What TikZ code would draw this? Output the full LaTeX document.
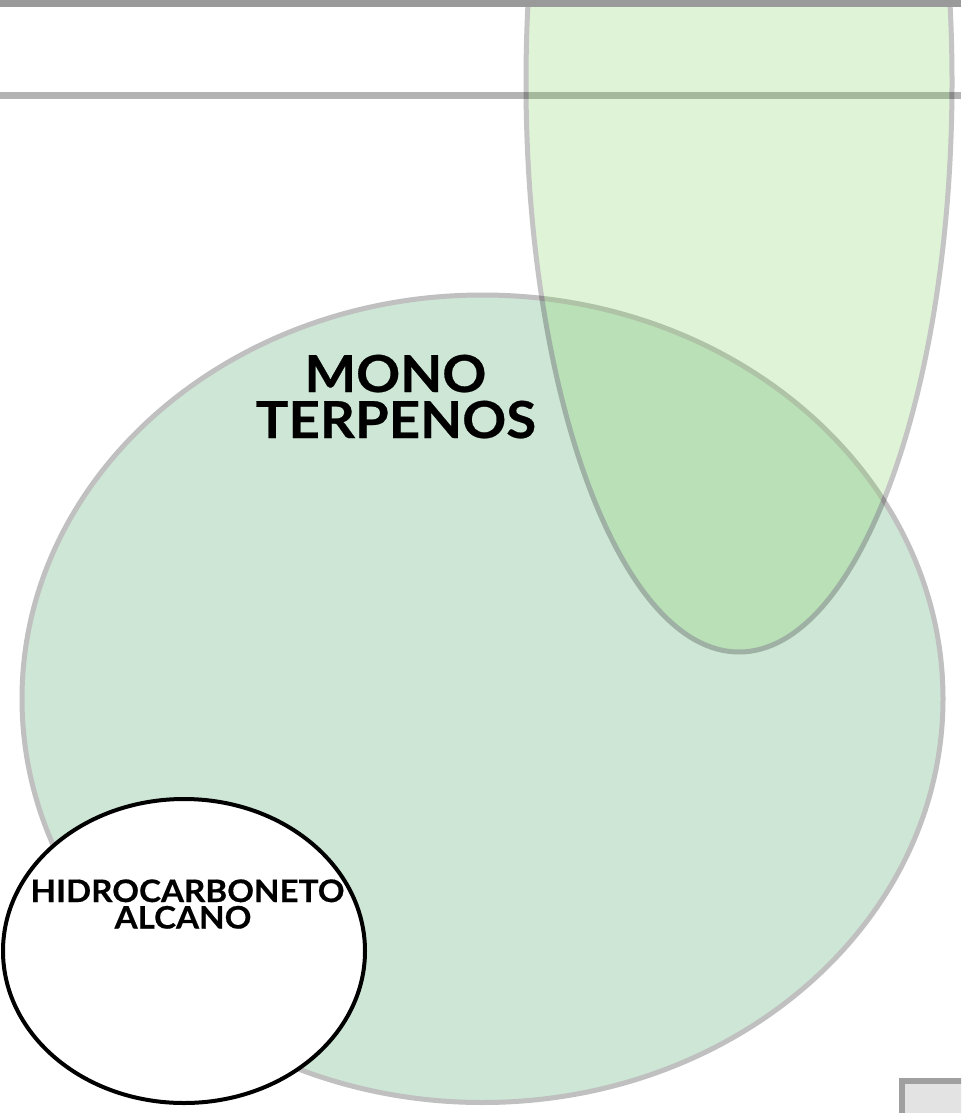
\documentclass[tikz,border=0pt]{standalone}
\usepackage{fontspec}
\setmainfont{Lato}[BoldFeatures={FakeStretch=1.07,FakeBold=0.5}]
\usetikzlibrary{shapes.geometric}
\definecolor{bigfill}{RGB}{205,230,213}
\definecolor{bigline}{RGB}{192,192,192}
\definecolor{tallfill}{RGB}{122,209,84}
\definecolor{tallline}{RGB}{10,10,10}
\definecolor{topbar}{RGB}{154,154,154}
\definecolor{midbar}{RGB}{179,179,179}
\definecolor{boxline}{RGB}{160,160,160}
\definecolor{boxfill}{RGB}{227,227,227}
\begin{document}
\begin{tikzpicture}[x=1pt,y=-1pt,
  blob/.style={ellipse, inner sep=0pt, outer sep=0pt},
  lbl/.style={inner sep=0pt, anchor=base, text=black, text depth=0pt},
  bigtxt/.style={lbl, text height=37pt, font=\fontsize{51}{51}\selectfont\bfseries},
  smalltxt/.style={lbl, text height=22pt, font=\fontsize{31}{31}\selectfont\bfseries}]
\useasboundingbox (0,0) rectangle (961,1113);
\clip (0,0) rectangle (961,1113);
\fill[white] (0,0) rectangle (961,1113);
\fill[midbar] (0,92) rectangle (961,99);
\node[blob, draw=bigline, line width=5pt, fill=bigfill,
      minimum width=921pt, minimum height=807.5pt] (mono) at (482.5,698.75) {};
\begin{scope}[transparency group, opacity=0.24]
\node[blob, draw=tallline, line width=5pt, fill=tallfill,
      minimum width=426pt, minimum height=1140pt] (tall) at (739,82) {};
\end{scope}
\node[blob, draw=black, line width=4pt, fill=white,
      minimum width=362pt, minimum height=304pt] (alk) at (184,951) {};
\fill[topbar] (0,0) rectangle (961,7.5);
\draw[boxline, line width=6pt, fill=boxfill] (902,1081) rectangle (990,1140);
\node[bigtxt] (m1) at (395.5,392) {MONO};
\node[bigtxt] (m2) at (396,438) {TERPENOS};
\node[smalltxt] (h1) at (187.5,902) {HIDROCARBONETO};
\node[smalltxt] (h2) at (183,928.5) {ALCANO};
\end{tikzpicture}
\end{document}
